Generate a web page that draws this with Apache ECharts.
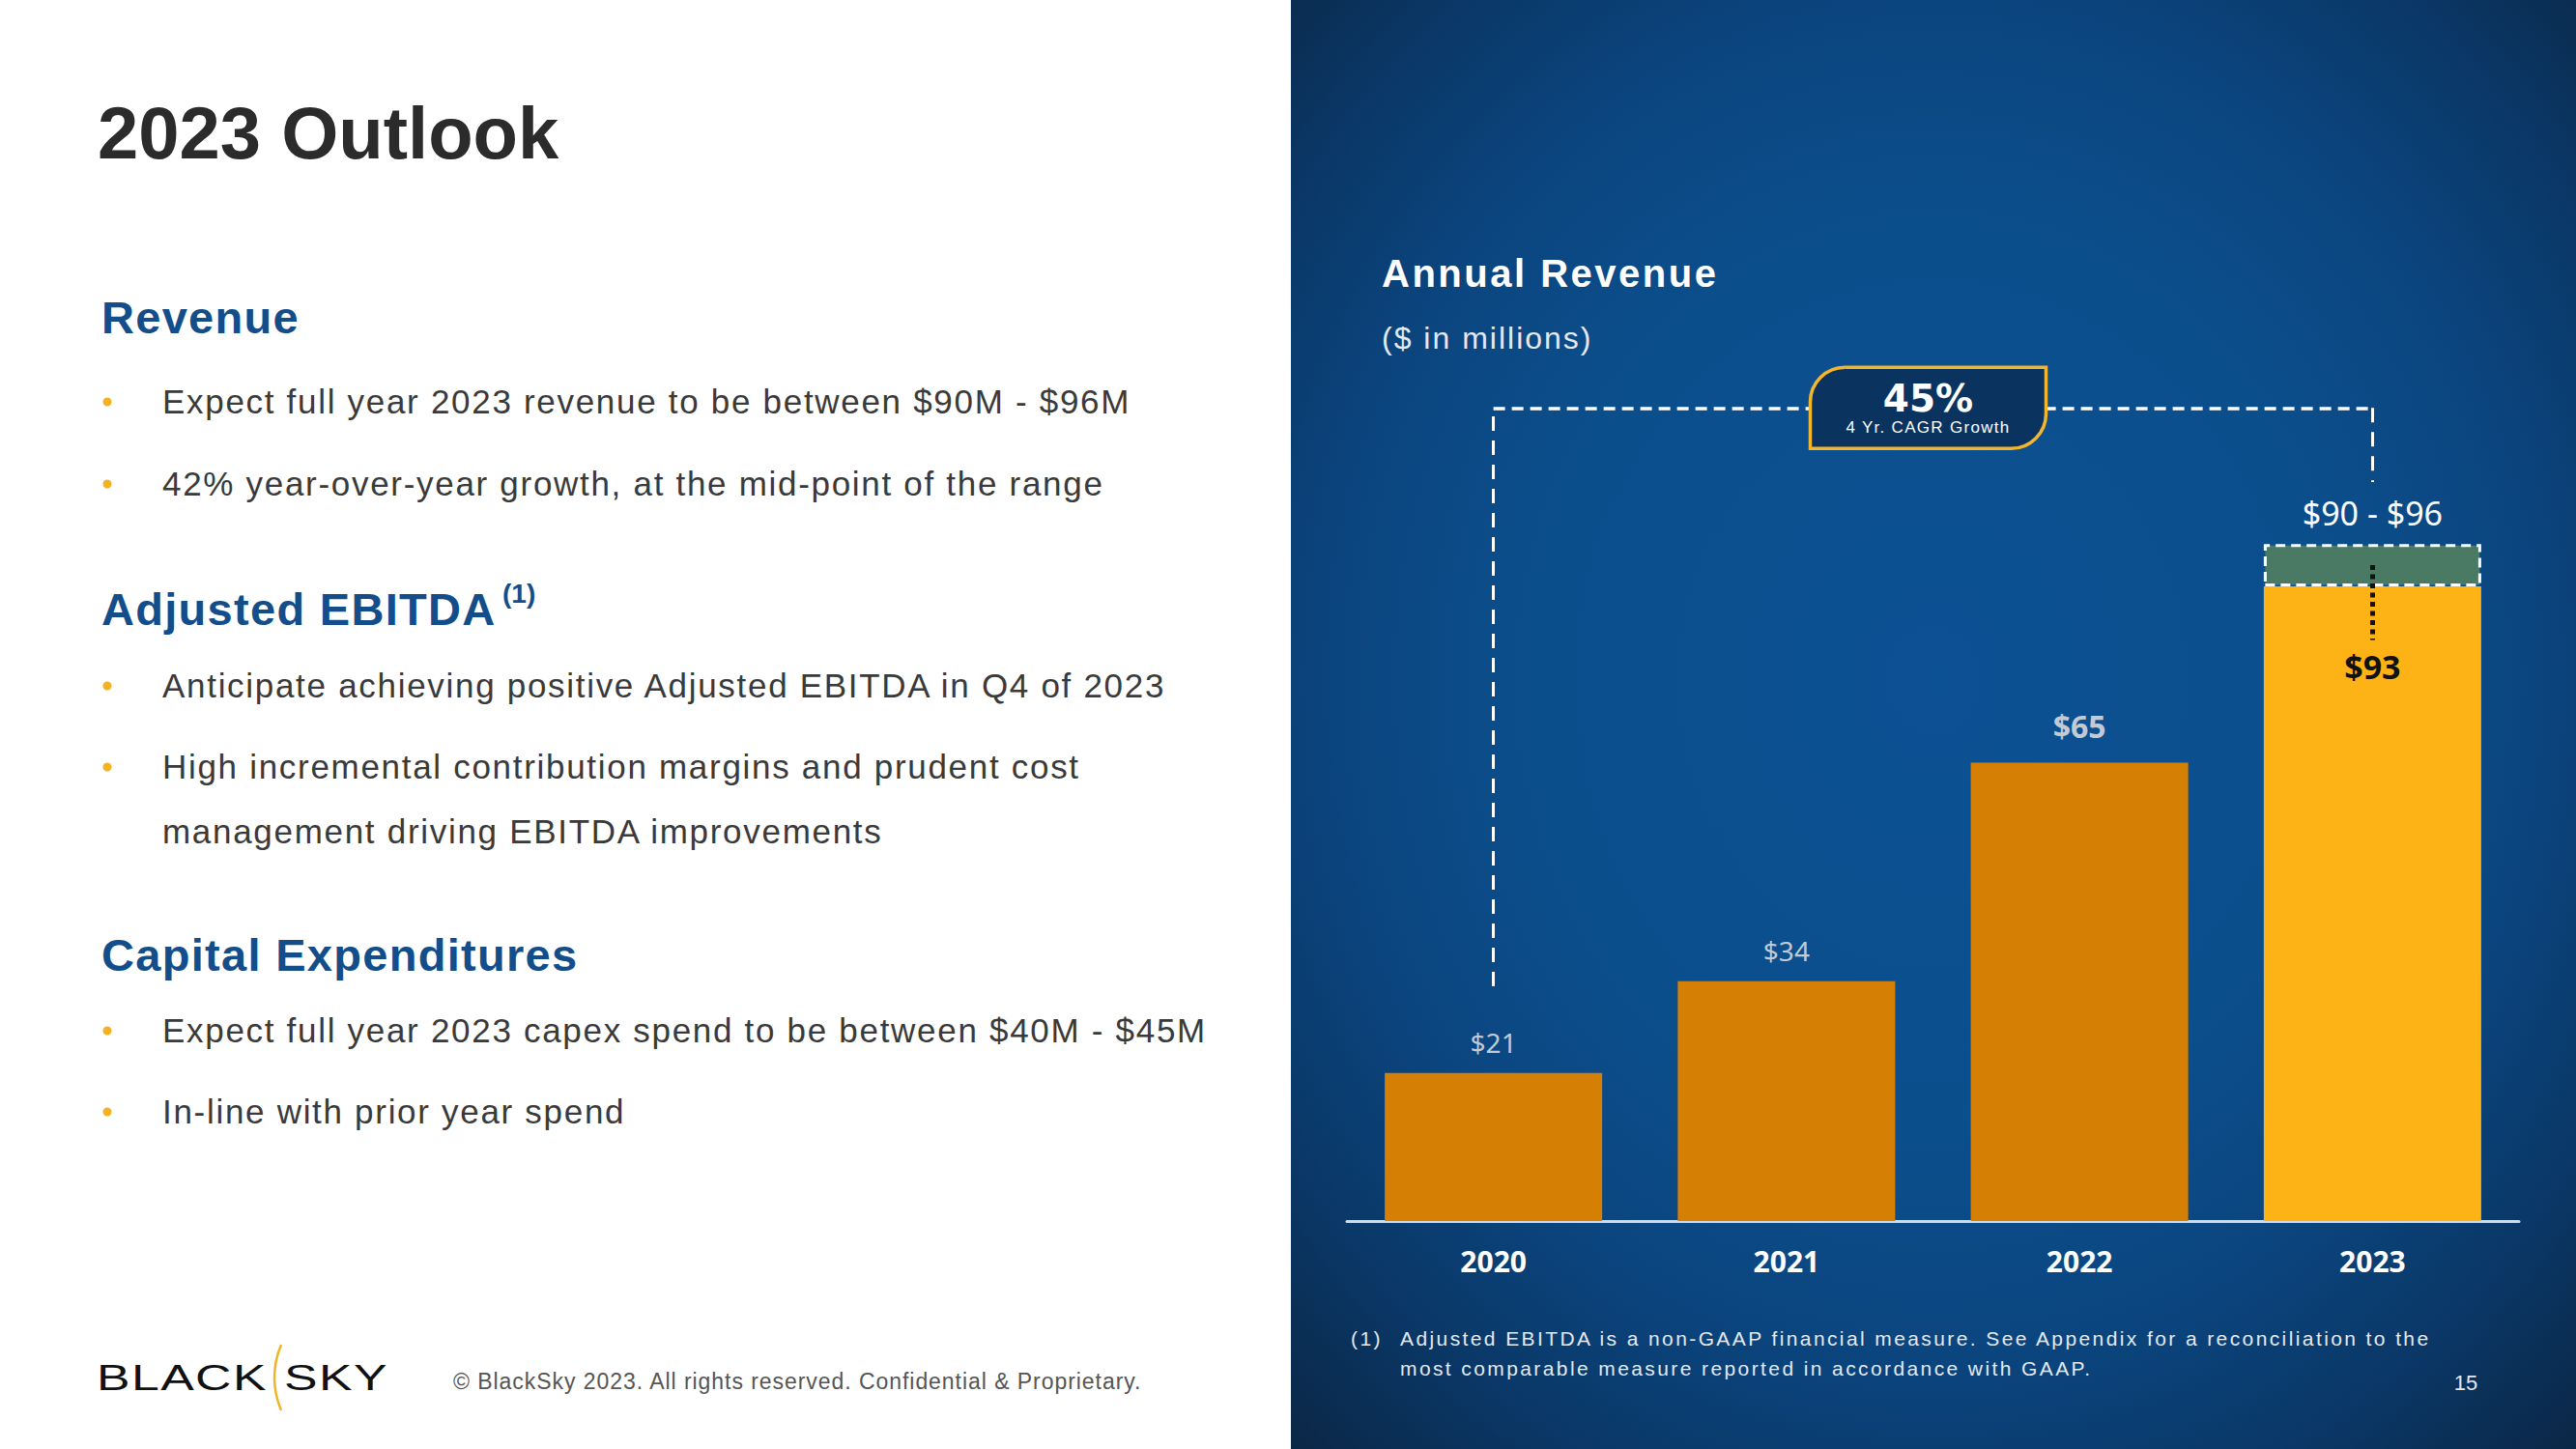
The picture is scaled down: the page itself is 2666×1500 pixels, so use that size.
<!DOCTYPE html>
<html>
<head>
<meta charset="utf-8">
<script src="https://cdn.jsdelivr.net/npm/echarts@6/dist/echarts.min.js"></script>
<style>
html,body{margin:0;padding:0;background:#ffffff;overflow:hidden;}
#chart{width:2666px;height:1500px;}
text[style*="lsH"]{letter-spacing:1.3px;}
text[style*="lsB"]{letter-spacing:1.7px;}
text[style*="lsR"]{letter-spacing:2.5px;}
text[style*="lsS"]{letter-spacing:2px;}
text[style*="lsN"]{letter-spacing:2.4px;}
text[style*="lsF"]{letter-spacing:0.95px;}
text[style*="lsG"]{letter-spacing:1.3px;}
text[style*="lsK"]{letter-spacing:1px;}
</style>
</head>
<body>
<div id="chart"></div>
<script>
// ---------------- data ----------------
const years = ['2020', '2021', '2022', '2023'];
const revenue = [21, 34, 65, 90];              // 2023 = low end of guidance
const guidanceIncrement = [null, null, null, 6]; // 90 -> 96
const guidanceMid = 93;
const valueLabels = ['$21', '$34', '$65', '$93'];
const rangeLabel = '$90 - $96';
const cagrValue = '45%';
const cagrText = '4 Yr. CAGR Growth';

const slideTitle = '2023 Outlook';
const headings = ['Revenue', 'Adjusted EBITDA', 'Capital Expenditures'];
const bullets = [
  'Expect full year 2023 revenue to be between $90M - $96M',
  '42% year-over-year growth, at the mid-point of the range',
  'Anticipate achieving positive Adjusted EBITDA in Q4 of 2023',
  'High incremental contribution margins and prudent cost',
  'management driving EBITDA improvements',
  'Expect full year 2023 capex spend to be between $40M - $45M',
  'In-line with prior year spend'
];
const chartTitle = 'Annual Revenue';
const chartSubtitle = '($ in millions)';
const footnote = ['Adjusted EBITDA is a non-GAAP financial measure. See Appendix for a reconciliation to the',
                  'most comparable measure reported in accordance with GAAP.'];
const footerText = '\u00A9 BlackSky 2023. All rights reserved. Confidential & Proprietary.';
const pageNumber = '15';

// ---------------- layout constants ----------------
const ARIAL = "'Liberation Sans', Arial, sans-serif";
const fam = tag => tag + ", " + ARIAL;
const CAL = "'Noto Sans', 'Open Sans', sans-serif";
const bracketTop = 115.3, bracketLeftBottom = 33.3, bracketRightBottom = 104.8;
const dotLineBottom = 82.4;

const chart = echarts.init(document.getElementById('chart'), null, {renderer: 'svg', width: 2666, height: 1500});

const whiteDashV = {color: '#ffffff', width: 3, type: [15, 10]};
const whiteDashH = {color: '#ffffff', width: 3.5, type: [12, 7]};

const option = {
  animation: false,
  backgroundColor: '#ffffff',
  grid: {left: 1394, right: 59, top: 388, bottom: 236, containLabel: false},
  xAxis: {
    type: 'category',
    data: years,
    axisLine: {show: true, lineStyle: {color: '#d4dae3', width: 3}},
    axisTick: {show: false},
    axisLabel: {color: '#ffffff', fontFamily: CAL, fontWeight: 'bold', fontSize: 30, margin: 26}
  },
  yAxis: {type: 'value', min: 0, max: 120, show: false, splitLine: {show: false}},
  series: [
    {
      name: 'Revenue', type: 'bar', stack: 'rev', barWidth: 225, z: 3,
      data: revenue.map((v, i) => ({
        value: v,
        itemStyle: {color: i === 3 ? '#fdb316' : '#d67f05'},
        label: i === 3 ? {position: 'insideTop', distance: 66, color: '#111111', fontWeight: 'bold', fontSize: 34}
             : i === 2 ? {fontWeight: 'bold', fontSize: 32, distance: 22}
             : {}
      })),
      label: {
        show: true, position: 'top', distance: 18,
        fontFamily: CAL, fontSize: 28, color: '#c3cad4',
        formatter: p => valueLabels[p.dataIndex]
      }
    },
    {
      name: 'Guidance range', type: 'bar', stack: 'rev', barWidth: 225, z: 3,
      data: guidanceIncrement,
      itemStyle: {color: '#4a7a63', borderColor: '#ffffff', borderWidth: 3, borderType: [10, 6]},
      label: {show: true, position: 'top', distance: 15, fontFamily: CAL, fontSize: 34, color: '#ffffff',
              formatter: () => rangeLabel}
    },
    {
      name: 'annotations', type: 'line', data: [], z: 4,
      markLine: {
        silent: true, symbol: ['none', 'none'], label: {show: false}, animation: false,
        data: [
          [{coord: [years[0], bracketLeftBottom], lineStyle: whiteDashV}, {coord: [years[0], bracketTop]}],
          [{coord: [years[0], bracketTop], lineStyle: whiteDashH}, {coord: [years[3], bracketTop]}],
          [{coord: [years[3], bracketTop], lineStyle: whiteDashV}, {coord: [years[3], bracketRightBottom]}],
          [{coord: [years[3], guidanceMid], lineStyle: {color: '#111111', width: 5, type: [5, 4.5]}}, {coord: [years[3], dotLineBottom]}]
        ]
      }
    }
  ]
};
chart.setOption(option);

// ---------------- graphics (slide text, background, callout) ----------------
function txt(x, y, text, o) {
  return {
    type: 'text', x: x, y: y, z: o.z || 10,
    scaleX: o.scaleX || 1,
    style: {
      text: text,
      fontSize: o.size, fontWeight: o.weight || 'normal', fontFamily: o.family || ARIAL,
      fill: o.color || '#333333',
      align: o.align || 'left', textAlign: o.align || 'left',
      verticalAlign: 'middle', textVerticalAlign: 'middle'
    }
  };
}

const g = [];
// right blue panel background
g.push({
  type: 'rect', z: -100, silent: true,
  shape: {x: 1336, y: 0, width: 1330, height: 1500},
  style: {fill: new echarts.graphic.RadialGradient(0.5, 0.47, 0.8, [
    {offset: 0, color: '#0c5193'},
    {offset: 0.4, color: '#0b4e8c'},
    {offset: 0.57, color: '#0b4680'},
    {offset: 0.74, color: '#0a3868'},
    {offset: 0.9, color: '#0b2848'},
    {offset: 1, color: '#0b2240'}
  ])}
});

// left slide text
g.push(txt(101, 137, slideTitle, {size: 76, weight: 'bold', color: '#2b2b2b'}));
const headY = [328, 630, 988];
headings.forEach((h, i) => g.push(txt(105, headY[i], h, {size: 47, weight: 'bold', color: '#134e8b', family: fam('lsH')})));
g.push(txt(520, 614, '(1)', {size: 28, weight: 'bold', color: '#134e8b'}));
const bulletY = [415, 500, 709, 793, 860, 1066, 1150];
const hasDot = [true, true, true, true, false, true, true];
bullets.forEach((b, i) => {
  if (hasDot[i]) g.push({type: 'circle', z: 10, shape: {cx: 111, cy: bulletY[i] + 1, r: 4.5}, style: {fill: '#f4b223'}});
  g.push(txt(168, bulletY[i], b, {size: 35, color: '#3a3a3a', family: fam('lsB')}));
});

// footer logo + text
g.push(txt(100, 1426, 'BLACK', {size: 37, color: '#111111', family: fam('lsK'), scaleX: 1.4}));
g.push(txt(294, 1426, 'SKY', {size: 37, color: '#111111', family: fam('lsK'), scaleX: 1.4}));
g.push({type: 'bezierCurve', z: 10, shape: {x1: 291, y1: 1392, cpx1: 277, cpy1: 1426, x2: 291, y2: 1460},
        style: {fill: 'none', stroke: '#f0b429', lineWidth: 2.5}});
g.push(txt(469, 1430, footerText, {size: 23, color: '#555555', family: fam('lsF')}));

// right panel text
g.push(txt(1430, 283, chartTitle, {size: 40, weight: 'bold', color: '#ffffff', family: fam('lsR')}));
g.push(txt(1430, 350, chartSubtitle, {size: 32, color: '#e3e9f1', family: fam('lsS')}));
g.push(txt(1398, 1385, '(1)', {size: 21, color: '#e3e9f1', family: fam('lsN')}));
g.push(txt(1449, 1385, footnote[0], {size: 21, color: '#e3e9f1', family: fam('lsN')}));
g.push(txt(1449, 1416, footnote[1], {size: 21, color: '#e3e9f1', family: fam('lsN')}));
g.push(txt(2552, 1431, pageNumber, {size: 22, color: '#e3e9f1', align: 'center'}));

// CAGR callout centred on the bracket line between 2021 and 2022
const p1 = chart.convertToPixel({gridIndex: 0}, [years[1], bracketTop]);
const p2 = chart.convertToPixel({gridIndex: 0}, [years[2], bracketTop]);
const cx = (p1[0] + p2[0]) / 2 - 5, cy = p1[1];
const bw = 244, bh = 84;
g.push({type: 'rect', z: 50, shape: {x: cx - bw / 2, y: cy - bh / 2, width: bw, height: bh, r: [36, 0, 36, 0]},
        style: {fill: '#0a3360', stroke: '#f2b52b', lineWidth: 3.5}});
g.push(Object.assign(txt(cx, cy - 10, cagrValue, {size: 39, weight: 'bold', color: '#ffffff', family: "'DejaVu Sans', sans-serif", align: 'center'}), {z: 51}));
g.push(Object.assign(txt(cx, cy + 20, cagrText, {size: 17, color: '#ffffff', family: fam('lsG'), align: 'center'}), {z: 51}));

chart.setOption({graphic: {elements: g}});
</script>
</body>
</html>
